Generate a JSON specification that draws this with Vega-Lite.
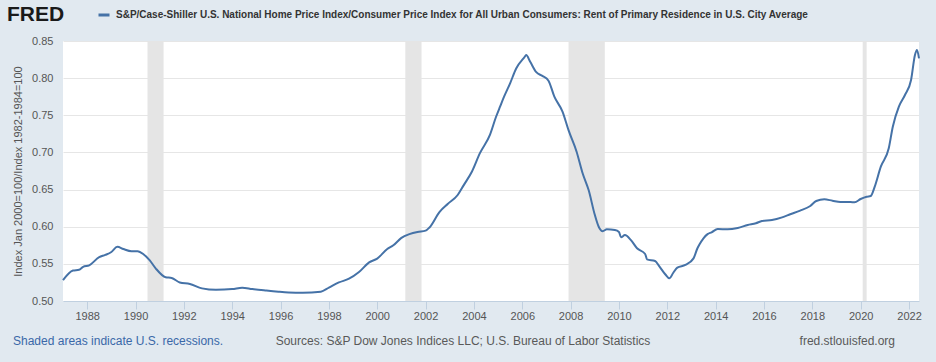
{
  "$schema": "https://vega.github.io/schema/vega-lite/v6.json",
  "width": 856,
  "height": 260,
  "autosize": {"type": "none"},
  "padding": {"left": 63, "top": 41, "right": 17, "bottom": 61},
  "background": "#e1e9f0",
  "title": {
    "text": "FRED",
    "anchor": "start",
    "frame": "group",
    "dx": -56,
    "offset": -17,
    "fontSize": 21,
    "fontWeight": "bold",
    "font": "Liberation Sans",
    "color": "#1a1a1a"
  },
  "config": {
    "view": {"fill": "white", "stroke": null},
    "font": "Liberation Sans",
    "axisX": {
      "grid": false,
      "domainColor": "#c0d0e0",
      "tickColor": "#c0d0e0",
      "tickSize": 8,
      "labelFont": "Liberation Sans",
      "labelFontSize": 11,
      "labelColor": "#555555",
      "labelPadding": 1,
      "title": null
    },
    "axisY": {
      "grid": true,
      "gridColor": "#e6e6e6",
      "domain": false,
      "ticks": false,
      "labelFont": "Liberation Sans",
      "labelFontSize": 11,
      "labelColor": "#555555",
      "labelPadding": 10,
      "titleFont": "Liberation Sans",
      "titleFontSize": 11,
      "titleFontWeight": "normal",
      "titleColor": "#555555",
      "titlePadding": 8
    }
  },
  "layer": [
    {
      "data": {"values": [
        {"start": "1990-07-01", "end": "1991-03-01"},
        {"start": "2001-03-01", "end": "2001-11-01"},
        {"start": "2007-12-01", "end": "2009-06-01"},
        {"start": "2020-02-01", "end": "2020-04-01"}
      ]},
      "mark": {"type": "rect", "color": "#e5e5e5"},
      "encoding": {
        "x": {"field": "start", "type": "temporal", "scale": {"domain": ["1987-01-01", "2022-06-01"]},
          "axis": {"values": ["1988-01-01","1990-01-01","1992-01-01","1994-01-01","1996-01-01","1998-01-01","2000-01-01","2002-01-01","2004-01-01","2006-01-01","2008-01-01","2010-01-01","2012-01-01","2014-01-01","2016-01-01","2018-01-01","2020-01-01","2022-01-01"], "format": "%Y", "title": null}},
        "x2": {"field": "end"}
      }
    },
    {
      "data": {"values": [
        {"date": "1987-01-01", "value": 0.528},
        {"date": "1987-06-01", "value": 0.541},
        {"date": "1987-09-01", "value": 0.542},
        {"date": "1987-11-01", "value": 0.546},
        {"date": "1988-02-01", "value": 0.548},
        {"date": "1988-07-01", "value": 0.559},
        {"date": "1988-10-01", "value": 0.562},
        {"date": "1989-01-01", "value": 0.566},
        {"date": "1989-04-01", "value": 0.573},
        {"date": "1989-07-01", "value": 0.570},
        {"date": "1989-11-01", "value": 0.567},
        {"date": "1990-02-01", "value": 0.567},
        {"date": "1990-05-01", "value": 0.563},
        {"date": "1990-08-01", "value": 0.555},
        {"date": "1990-11-01", "value": 0.544},
        {"date": "1991-04-01", "value": 0.532},
        {"date": "1991-07-01", "value": 0.531},
        {"date": "1991-11-01", "value": 0.525},
        {"date": "1992-04-01", "value": 0.523},
        {"date": "1992-10-01", "value": 0.517},
        {"date": "1993-05-01", "value": 0.515},
        {"date": "1994-01-01", "value": 0.516},
        {"date": "1994-06-01", "value": 0.518},
        {"date": "1994-11-01", "value": 0.516},
        {"date": "1995-06-01", "value": 0.514},
        {"date": "1995-12-01", "value": 0.5125},
        {"date": "1996-05-01", "value": 0.5115},
        {"date": "1996-12-01", "value": 0.511},
        {"date": "1997-09-01", "value": 0.5125},
        {"date": "1998-01-01", "value": 0.518},
        {"date": "1998-06-01", "value": 0.525},
        {"date": "1998-11-01", "value": 0.530},
        {"date": "1999-04-01", "value": 0.539},
        {"date": "1999-09-01", "value": 0.552},
        {"date": "2000-01-01", "value": 0.557},
        {"date": "2000-06-01", "value": 0.570},
        {"date": "2000-09-01", "value": 0.575},
        {"date": "2001-01-01", "value": 0.585},
        {"date": "2001-05-01", "value": 0.590},
        {"date": "2001-09-01", "value": 0.593},
        {"date": "2002-01-01", "value": 0.5947},
        {"date": "2002-03-01", "value": 0.599},
        {"date": "2002-08-01", "value": 0.620},
        {"date": "2002-12-01", "value": 0.6306},
        {"date": "2003-05-01", "value": 0.6427},
        {"date": "2003-08-01", "value": 0.656},
        {"date": "2003-12-01", "value": 0.674},
        {"date": "2004-04-01", "value": 0.699},
        {"date": "2004-09-01", "value": 0.724},
        {"date": "2004-12-01", "value": 0.748},
        {"date": "2005-02-01", "value": 0.762},
        {"date": "2005-04-01", "value": 0.775},
        {"date": "2005-07-01", "value": 0.793},
        {"date": "2005-10-01", "value": 0.813},
        {"date": "2006-02-01", "value": 0.828},
        {"date": "2006-03-01", "value": 0.831},
        {"date": "2006-05-01", "value": 0.822},
        {"date": "2006-08-01", "value": 0.808},
        {"date": "2006-11-01", "value": 0.803},
        {"date": "2007-02-01", "value": 0.7966},
        {"date": "2007-05-01", "value": 0.775},
        {"date": "2007-09-01", "value": 0.755},
        {"date": "2007-12-01", "value": 0.730},
        {"date": "2008-04-01", "value": 0.701},
        {"date": "2008-07-01", "value": 0.672},
        {"date": "2008-10-01", "value": 0.649},
        {"date": "2009-01-01", "value": 0.616},
        {"date": "2009-03-01", "value": 0.600},
        {"date": "2009-05-01", "value": 0.594},
        {"date": "2009-07-01", "value": 0.5965},
        {"date": "2009-11-01", "value": 0.5956},
        {"date": "2010-01-01", "value": 0.593},
        {"date": "2010-02-01", "value": 0.5857},
        {"date": "2010-04-01", "value": 0.5888},
        {"date": "2010-07-01", "value": 0.582},
        {"date": "2010-10-01", "value": 0.571},
        {"date": "2011-02-01", "value": 0.5633},
        {"date": "2011-03-01", "value": 0.556},
        {"date": "2011-07-01", "value": 0.5538},
        {"date": "2011-09-01", "value": 0.547},
        {"date": "2011-12-01", "value": 0.536},
        {"date": "2012-02-01", "value": 0.5305},
        {"date": "2012-04-01", "value": 0.538},
        {"date": "2012-06-01", "value": 0.545},
        {"date": "2012-10-01", "value": 0.5485},
        {"date": "2013-02-01", "value": 0.5574},
        {"date": "2013-04-01", "value": 0.571},
        {"date": "2013-05-01", "value": 0.576},
        {"date": "2013-07-01", "value": 0.5844},
        {"date": "2013-09-01", "value": 0.590},
        {"date": "2013-11-01", "value": 0.5925},
        {"date": "2014-02-01", "value": 0.597},
        {"date": "2014-07-01", "value": 0.5965},
        {"date": "2014-12-01", "value": 0.5983},
        {"date": "2015-05-01", "value": 0.6023},
        {"date": "2015-09-01", "value": 0.6046},
        {"date": "2015-12-01", "value": 0.6077},
        {"date": "2016-05-01", "value": 0.609},
        {"date": "2016-10-01", "value": 0.6126},
        {"date": "2017-02-01", "value": 0.6167},
        {"date": "2017-07-01", "value": 0.6216},
        {"date": "2017-12-01", "value": 0.6279},
        {"date": "2018-03-01", "value": 0.6346},
        {"date": "2018-07-01", "value": 0.6369},
        {"date": "2018-11-01", "value": 0.635},
        {"date": "2019-03-01", "value": 0.6333},
        {"date": "2019-08-01", "value": 0.6333},
        {"date": "2019-10-01", "value": 0.6328},
        {"date": "2020-01-01", "value": 0.6373},
        {"date": "2020-04-01", "value": 0.6404},
        {"date": "2020-06-01", "value": 0.6413},
        {"date": "2020-08-01", "value": 0.6539},
        {"date": "2020-11-01", "value": 0.6808},
        {"date": "2021-03-01", "value": 0.7055},
        {"date": "2021-05-01", "value": 0.7346},
        {"date": "2021-08-01", "value": 0.7616},
        {"date": "2021-11-01", "value": 0.7773},
        {"date": "2022-02-01", "value": 0.7975},
        {"date": "2022-04-01", "value": 0.8312},
        {"date": "2022-05-01", "value": 0.8379},
        {"date": "2022-06-01", "value": 0.8267}
      ]},
      "mark": {"type": "line", "strokeWidth": 2, "interpolate": "monotone"},
      "encoding": {
        "x": {"field": "date", "type": "temporal",
          "axis": {"values": ["1988-01-01","1990-01-01","1992-01-01","1994-01-01","1996-01-01","1998-01-01","2000-01-01","2002-01-01","2004-01-01","2006-01-01","2008-01-01","2010-01-01","2012-01-01","2014-01-01","2016-01-01","2018-01-01","2020-01-01","2022-01-01"], "format": "%Y", "title": null}},
        "y": {"field": "value", "type": "quantitative",
          "scale": {"domain": [0.5, 0.85], "nice": false, "zero": false},
          "axis": {"values": [0.5, 0.55, 0.6, 0.65, 0.7, 0.75, 0.8, 0.85], "format": ".2f", "title": "Index Jan 2000=100/Index 1982-1984=100"}},
        "color": {
          "datum": "S&P/Case-Shiller U.S. National Home Price Index/Consumer Price Index for All Urban Consumers: Rent of Primary Residence in U.S. City Average",
          "scale": {"range": ["#4572a7"]},
          "legend": {
            "orient": "none",
            "legendX": 34,
            "legendY": -33,
            "title": null,
            "symbolType": "stroke",
            "symbolSize": 121,
            "symbolStrokeWidth": 3,
            "labelFont": "Liberation Sans",
            "labelFontSize": 10,
            "labelFontWeight": "bold",
            "labelColor": "#333333",
            "labelLimit": 900,
            "labelOffset": 5
          }
        }
      }
    },
    {
      "data": {"values": [{}]},
      "mark": {"type": "text", "align": "left", "baseline": "middle", "fontSize": 12, "font": "Liberation Sans", "color": "#3a68a8"},
      "encoding": {"x": {"value": -50}, "y": {"value": 300}, "text": {"value": "Shaded areas indicate U.S. recessions."}}
    },
    {
      "data": {"values": [{}]},
      "mark": {"type": "text", "align": "center", "baseline": "middle", "fontSize": 12, "font": "Liberation Sans", "color": "#595959"},
      "encoding": {"x": {"value": 400}, "y": {"value": 300}, "text": {"value": "Sources: S&P Dow Jones Indices LLC; U.S. Bureau of Labor Statistics"}}
    },
    {
      "data": {"values": [{}]},
      "mark": {"type": "text", "align": "right", "baseline": "middle", "fontSize": 12, "font": "Liberation Sans", "color": "#595959"},
      "encoding": {"x": {"value": 832}, "y": {"value": 300}, "text": {"value": "fred.stlouisfed.org"}}
    }
  ]
}
